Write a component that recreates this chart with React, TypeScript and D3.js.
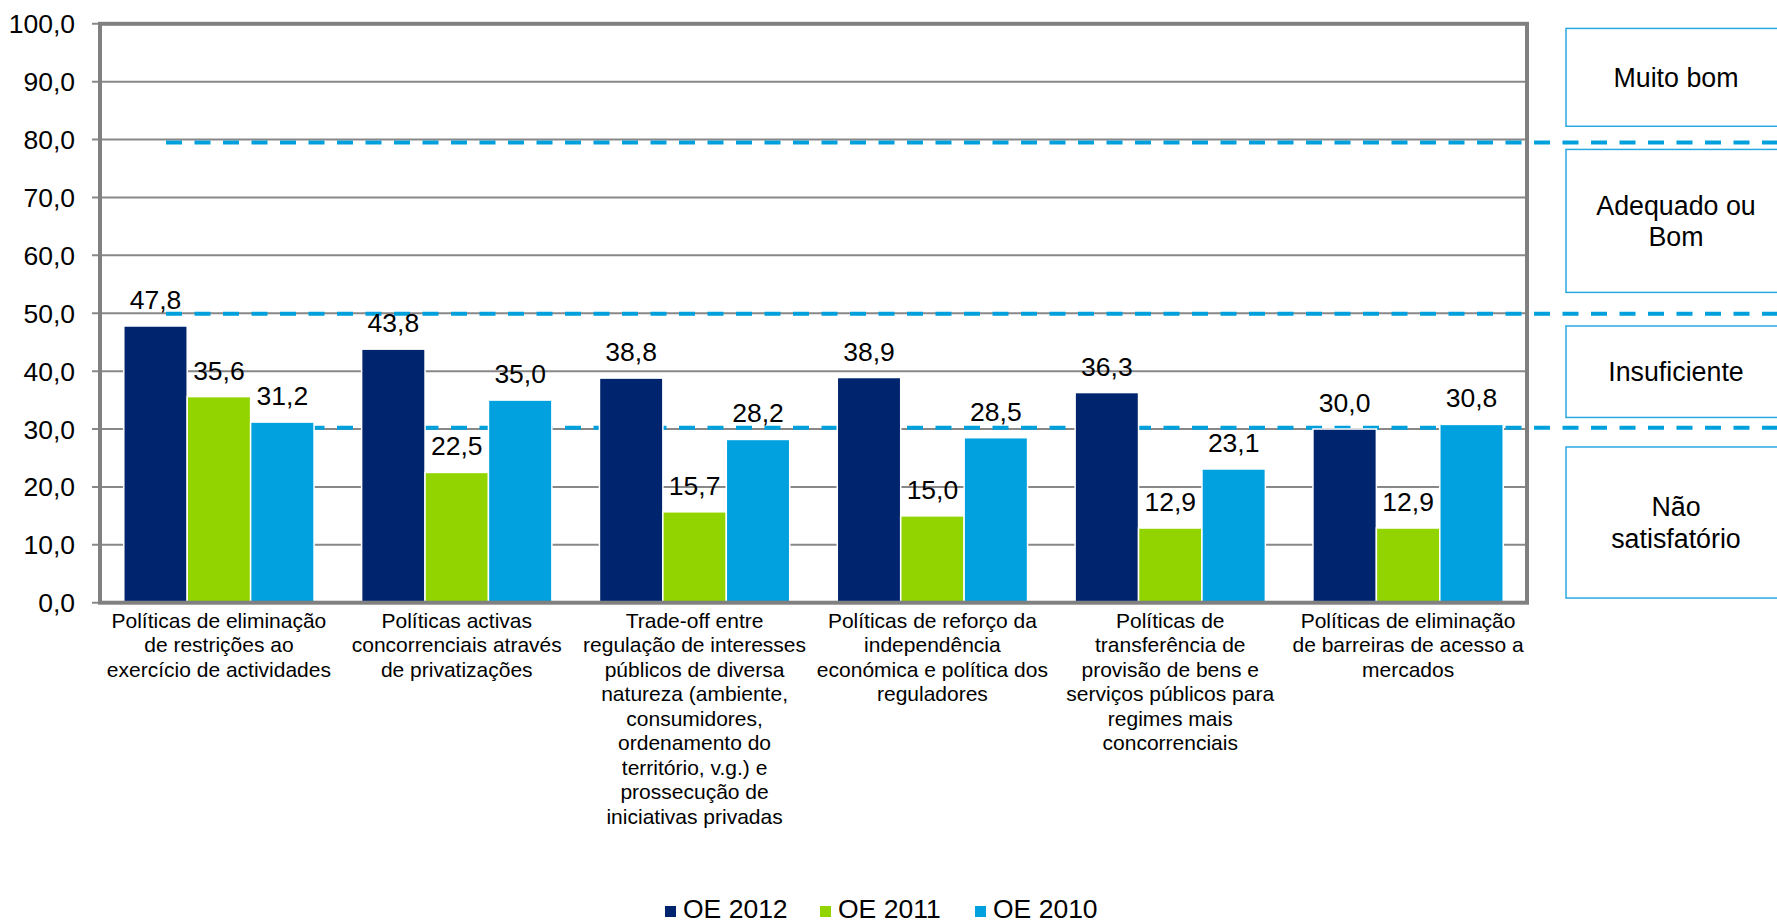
import React from "react";
import * as d3 from "d3";

const categories: string[][] = [
  ["Políticas de eliminação", "de restrições ao", "exercício de actividades"],
  ["Políticas activas", "concorrenciais através", "de privatizações"],
  ["Trade-off entre", "regulação de interesses", "públicos de diversa", "natureza (ambiente,", "consumidores,", "ordenamento do", "território, v.g.) e", "prossecução de", "iniciativas privadas"],
  ["Políticas de reforço da", "independência", "económica e política dos", "reguladores"],
  ["Políticas de", "transferência de", "provisão de bens e", "serviços públicos para", "regimes mais", "concorrenciais"],
  ["Políticas de eliminação", "de barreiras de acesso a", "mercados"],
];

const seriesNames = ["OE 2012", "OE 2011", "OE 2010"];
const oe2012 = [47.8, 43.8, 38.8, 38.9, 36.3, 30.0];
const oe2011 = [35.6, 22.5, 15.7, 15.0, 12.9, 12.9];
const oe2010 = [31.2, 35.0, 28.2, 28.5, 23.1, 30.8];
const seriesColors = ["#00256E", "#92D400", "#00A1DE"];

const yTicks = [0, 10, 20, 30, 40, 50, 60, 70, 80, 90, 100];
const thresholds = [79.5, 49.9, 30.2];
const ratingLabels: string[][] = [["Muito bom"], ["Adequado ou", "Bom"], ["Insuficiente"], ["Não", "satisfatório"]];
// rating boxes span (value range top, bottom) in axis units
const ratingBoxes: [number, number][] = [
  [99.2, 82.3],
  [78.3, 53.6],
  [47.8, 32.0],
  [26.9, 0.8],
];

const FONT = "'Liberation Sans', Arial, Helvetica, sans-serif";
const fmt = (v: number) => d3.format(".1f")(v).replace(".", ",");

export default function App() {
  const W = 1777, H = 924;
  const left = 100, right = 1527, top = 23.8, bottom = 602.7;
  const y = d3.scaleLinear().domain([0, 100]).range([bottom, top]);
  const idx = categories.map((_, i) => String(i));
  const x0 = d3.scaleBand().domain(idx).range([left, right]).paddingInner(0.2).paddingOuter(0.1);
  const x1 = d3.scaleBand().domain(seriesNames).range([0, x0.bandwidth()]);
  const allSeries = [oe2012, oe2011, oe2010];
  const gridColor = "#888888";
  const dashColor = "#00A0DC";

  return (
    <div style={{ position: "absolute", left: 0, top: 0 }}>
      <svg width={W} height={H} style={{ display: "block", background: "#fff" }} fontFamily={FONT}>
        {/* gridlines */}
        {yTicks.map((t) => (
          <line key={"g" + t} x1={left - 8} x2={right} y1={y(t)} y2={y(t)} stroke={gridColor} strokeWidth={2} />
        ))}
        {/* threshold dashed lines */}
        {thresholds.map((t) => (
          <line key={"th" + t} x1={166} x2={W} y1={y(t)} y2={y(t)} stroke={dashColor} strokeWidth={4} strokeDasharray="16 12.5" />
        ))}
        {/* bars */}
        {categories.map((_, ci) => (
          <g key={"c" + ci} transform={`translate(${x0(String(ci))},0)`}>
            {allSeries.map((s, si) => (
              <rect
                key={si}
                x={x1(seriesNames[si])}
                y={y(s[ci])}
                width={x1.bandwidth()}
                height={y(0) - y(s[ci])}
                fill={seriesColors[si]}
                stroke="#fff"
                strokeWidth={1.5}
              />
            ))}
            {allSeries.map((s, si) => (
              <text
                key={"l" + si}
                x={(x1(seriesNames[si]) as number) + x1.bandwidth() / 2}
                y={y(s[ci]) - 17}
                textAnchor="middle"
                fontSize={26.5}
                fill="#000"
              >
                {fmt(s[ci])}
              </text>
            ))}
          </g>
        ))}
        {/* plot border */}
        <rect x={left} y={top} width={right - left} height={bottom - top} fill="none" stroke="#808080" strokeWidth={4} />
        {/* y axis labels */}
        {yTicks.map((t) => (
          <text key={"yl" + t} x={75} y={y(t)} dy="0.36em" textAnchor="end" fontSize={26.5} fill="#000">
            {fmt(t)}
          </text>
        ))}
        {/* category labels */}
        {categories.map((lines, ci) => (
          <text key={"cl" + ci} textAnchor="middle" fontSize={21} fill="#000">
            {lines.map((ln, li) => (
              <tspan key={li} x={(x0(String(ci)) as number) + x0.bandwidth() / 2} y={627.5 + li * 24.5}>
                {ln}
              </tspan>
            ))}
          </text>
        ))}
        {/* rating boxes */}
        {ratingBoxes.map(([a, b], i) => {
          const y1 = y(a), y2 = y(b);
          const cy = (y1 + y2) / 2;
          const lines = ratingLabels[i];
          return (
            <g key={"rb" + i}>
              <rect x={1566} y={y1} width={260} height={y2 - y1} fill="#fff" stroke="#2AA9E0" strokeWidth={1.5} />
              <text textAnchor="middle" fontSize={26.8} fill="#000">
                {lines.map((ln, li) => (
                  <tspan key={li} x={1676} y={cy + 9.5 + (li - (lines.length - 1) / 2) * 31.5}>
                    {ln}
                  </tspan>
                ))}
              </text>
            </g>
          );
        })}
        {/* legend */}
        {seriesNames.map((n, i) => (
          <g key={"lg" + i} transform={`translate(${665 + i * 155},0)`}>
            <rect x={0} y={906} width={11} height={11} fill={seriesColors[i]} />
            <text x={18} y={918} fontSize={26.5} fill="#000">
              {n}
            </text>
          </g>
        ))}
      </svg>
    </div>
  );
}
